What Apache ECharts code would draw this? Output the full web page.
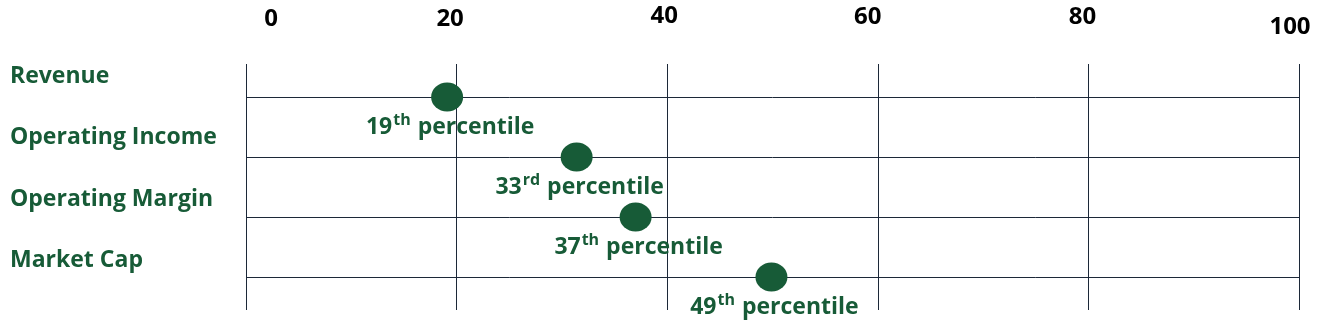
<!DOCTYPE html>
<html>
<head>
<meta charset="utf-8">
<script src="https://cdn.jsdelivr.net/npm/echarts@6/dist/echarts.min.js"></script>
<style>
  html, body { margin: 0; padding: 0; background: #ffffff; }
  #chart { width: 1319px; height: 325px; }
</style>
</head>
<body>
<div id="chart"></div>
<script>
// ---- data ----
const categories = ['Revenue', 'Operating Income', 'Operating Margin', 'Market Cap'];
const dotPositions = [19.1, 31.4, 37.0, 49.9];      // where the dots sit on the 0-100 scale
const percentileRanks = [19, 33, 37, 49];            // label numbers
const percentileSuffixes = ['th', 'rd', 'th', 'th'];
const xTicks = [0, 20, 40, 60, 80, 100];

const GREEN = '#175b37';
const LINE = '#1c2838';

// per-tick label nudges (rich padding), to mimic staggered labels
const tickRich = {
  t0: { padding: [0, 0, 0, 50] },
  t20: { padding: [0, 13, 0, 0] },
  t40: { padding: [0, 6, 6, 0] },
  t60: { padding: [0, 20, 3, 0] },
  t80: { padding: [0, 12, 4, 0] },
  t100: { padding: [16, 18, 0, 0] }
};
Object.keys(tickRich).forEach(k => Object.assign(tickRich[k], {
  fontFamily: 'Open Sans', fontWeight: 'bold', fontSize: 24, color: '#000000'
}));

const chart = echarts.init(document.getElementById('chart'), null, { renderer: 'canvas' });

const scatterData = categories.map((c, i) => ({
  value: [dotPositions[i], i],
  rank: percentileRanks[i],
  suffix: percentileSuffixes[i]
}));

chart.setOption({
  animation: false,
  backgroundColor: '#ffffff',
  grid: { left: 246, right: 20, top: 64, bottom: 15, containLabel: false },
  xAxis: {
    type: 'value', position: 'top', min: 0, max: 100, interval: 20,
    axisLine: { show: false }, axisTick: { show: false },
    splitLine: { show: true, lineStyle: { color: LINE, width: 1 } },
    axisLabel: {
      show: true, margin: 45, verticalAlign: 'middle', hideOverlap: false,
      showMinLabel: true, showMaxLabel: true,
      formatter: v => '{t' + v + '|' + v + '}',
      rich: tickRich
    }
  },
  yAxis: [
    {
      type: 'category', data: categories, inverse: true,
      axisLine: { show: false }, axisTick: { show: false }, splitLine: { show: false },
      axisLabel: {
        margin: 236, align: 'left', verticalAlign: 'middle',
        formatter: v => '{c|' + v + '}',
        rich: { c: { fontFamily: 'Open Sans', fontWeight: 'bold', fontSize: 23, color: GREEN, padding: [0, 0, 37, 0] } }
      }
    },
    {
      type: 'value', min: -0.55, max: 3.55, inverse: true, show: false,
      splitLine: { show: false }
    }
  ],
  series: [{
    type: 'scatter', yAxisIndex: 1,
    symbol: 'circle', symbolSize: [32, 29],
    itemStyle: { color: GREEN, opacity: 1 },
    data: scatterData,
    z: 5,
    label: {
      show: true, position: 'bottom', distance: -5, offset: [3, 0],
      formatter: p => '{n|' + p.data.rank + '}{s|' + p.data.suffix + '}{n| percentile}',
      rich: {
        n: { fontFamily: 'Open Sans', fontWeight: 'bold', fontSize: 23, color: GREEN, lineHeight: 32, verticalAlign: 'bottom' },
        s: { fontFamily: 'Open Sans', fontWeight: 'bold', fontSize: 16, color: GREEN, verticalAlign: 'top', padding: [6, 1, 0, 1] }
      }
    },
    markLine: {
      silent: true, symbol: 'none', animation: false,
      label: { show: false },
      lineStyle: { color: LINE, width: 1, type: 'solid' },
      data: categories.map((c, i) => ({ yAxis: i }))
    }
  }]
});
</script>
</body>
</html>
